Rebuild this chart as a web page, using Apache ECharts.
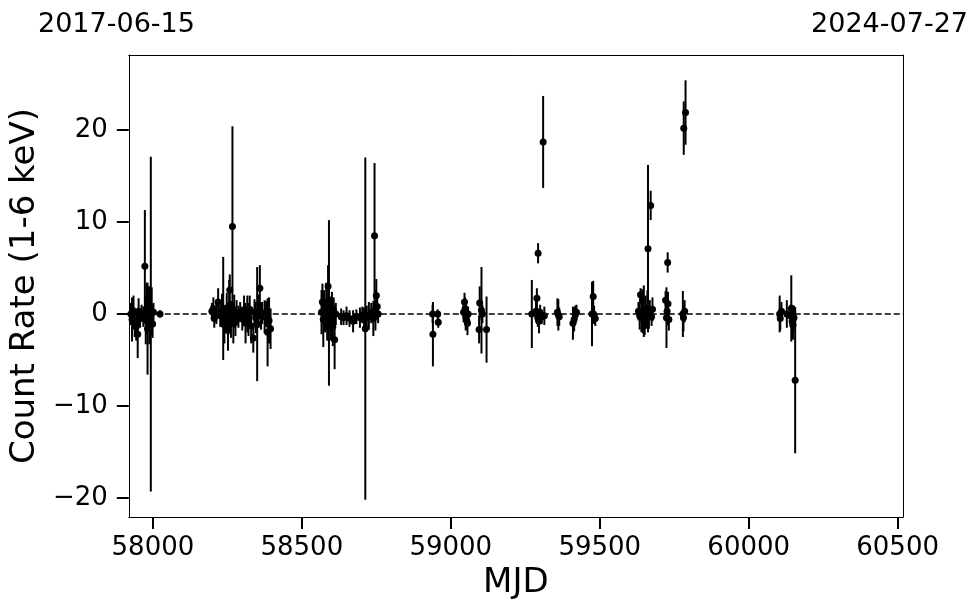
<!DOCTYPE html>
<html>
<head>
<meta charset="utf-8">
<script src="https://cdn.jsdelivr.net/npm/echarts@6/dist/echarts.min.js"></script>
<style>
html,body{margin:0;padding:0;background:#fff;}
#chart{width:980px;height:613px;}
</style>
</head>
<body>
<div id="chart"></div>
<script>
// ---- data (MJD, count rate, 1-sigma error) ----
const mjd = [
  57926,57930,57935,57939,57944,57949,57952,57957,57962,57968,57973,57976,57979,57982,57985,57988,57990,57993,57996,57999,58002,58024,
  58198,58203,58206,58213,58219,58226,58232,58236,58240,58244,58248,58252,58256,58258,58262,58267,58270,58273,58277,58281,58287,58293,58300,58306,58311,58317,58321,58325,58330,58337,58341,58345,58350,58355,58359,58363,58367,58375,58380,58385,58390,58395,
  58566,58569,58572,58575,58578,58582,58585,58588,58591,58594,58598,58601,58604,58607,58610,58614,58632,58640,58650,58660,58672,58683,58695,58703,58709,58713,58718,58725,58733,58740,58744,58747,58750,58753,58756,
  58939,58940,58956,58958,
  59043,59046,59048,59050,59052,59054,59056,59058,
  59095,59097,59103,59106,59120,
  59272,59286,59289,59292,59293,59296,59300,59305,59310,59314,59358,59361,59364,59410,59414,59418,59422,59474,59478,59481,59485,
  59630,59634,59637,59640,59643,59645,59648,59651,59654,59657,59660,59662,59665,59668,59671,59674,59677,59721,59724,59726,59728,59729,59732,59779,59781,59782,59785,59788,
  60104,60106,60110,60128,60140,60143,60146,60149,60152,60156
];
const rate = [
  0.0,-0.6,0.2,-0.9,-1.4,-2.2,0.3,-0.5,0.1,-0.3,5.2,-0.7,0.6,-1.6,1.1,-0.4,0.8,-1.1,0.3,-1.1,0.2,0.0,
  0.3,0.6,-0.5,0.0,1.3,-0.2,0.4,0.6,-1.2,-0.5,0.2,-1.8,0.9,2.6,-0.6,9.5,-1.0,0.3,-0.8,0.1,-0.3,0.2,-0.5,0.4,-1.0,0.0,-0.6,0.5,-1.3,-2.6,0.2,-0.4,-1.1,0.3,2.8,-0.2,0.1,-0.3,0.0,-2.0,-0.7,-1.6,
  0.2,1.3,-0.6,0.4,-0.2,0.8,-0.9,3.0,1.2,0.1,-0.5,0.6,-1.4,0.3,-2.8,0.0,-0.3,-0.4,-0.2,-0.5,-0.8,-0.3,-0.4,-0.1,-0.6,-1.6,-0.3,-0.2,0.1,-0.5,8.5,0.4,2.0,0.8,0.0,
  0.0,-2.2,0.0,-0.9,
  0.2,1.3,0.6,-0.2,-0.5,-0.8,-1.0,0.0,
  -1.7,1.2,0.4,0.0,-1.7,
  0.0,0.3,1.7,-0.4,6.6,-0.8,0.1,-0.3,18.7,-0.2,0.2,-0.1,-0.3,-1.0,-0.6,-0.1,0.2,0.0,1.9,-0.1,-0.5,
  0.3,-0.2,2.1,0.0,1.5,-0.5,0.3,-0.8,0.2,-0.4,0.6,7.1,-0.2,0.4,11.8,-0.3,0.5,1.5,-0.4,0.3,5.6,1.1,-0.6,0.0,-0.4,20.2,0.3,21.9,
  0.0,-0.5,0.3,0.0,-0.2,0.6,-0.8,-1.2,-0.4,-7.2
];
const err = [
  1.2,2.4,1.8,1.6,1.5,2.6,1.4,1.0,0.9,1.1,6.1,2.6,2.8,5.0,1.9,2.9,2.2,18.2,2.6,1.5,1.0,0.4,
  0.9,1.2,1.0,1.1,1.5,1.2,1.8,5.6,2.0,1.5,2.1,2.2,2.8,1.7,2.0,10.9,2.2,1.8,1.6,1.4,1.2,1.1,1.3,1.6,2.2,2.0,1.8,1.5,1.9,1.6,1.4,1.7,6.2,1.8,2.5,1.5,1.2,1.8,1.4,3.7,2.5,2.2,
  2.4,2.0,3.0,2.2,1.8,2.6,2.0,2.3,9.0,1.6,2.4,1.8,2.1,1.5,3.2,1.2,0.9,0.8,1.0,0.9,1.2,0.8,1.1,0.9,1.3,18.6,1.2,1.5,1.1,1.9,7.9,2.2,1.8,1.4,1.0,
  1.0,3.5,0.5,0.6,
  1.1,1.0,1.2,1.6,1.0,0.9,1.3,0.8,
  1.5,1.8,4.7,1.0,3.6,
  3.7,1.2,1.1,1.0,1.1,1.3,0.9,0.8,5.0,1.0,1.5,1.7,1.0,1.8,1.3,1.0,0.8,3.5,1.7,1.0,0.8,
  1.0,1.5,0.7,2.0,1.2,1.6,2.8,1.5,1.8,1.2,2.0,9.1,1.4,1.1,1.6,1.0,1.3,1.0,3.3,1.5,1.1,1.3,1.2,2.5,1.5,2.9,1.2,3.5,
  2.0,1.3,1.0,1.5,1.2,3.6,1.8,1.6,1.3,7.95
];
const xTicks = [58000, 58500, 59000, 59500, 60000, 60500];
const yTicks = [-20, -10, 0, 10, 20];
const dateStart = '2017-06-15';
const dateEnd = '2024-07-27';
const xMin = 57919, xMax = 60518;
const yMin = -22.07, yMax = 28.15;

// ---- build series data ----
const points = mjd.map((m, i) => [m, rate[i]]);
const bars = mjd.map((m, i) => [m, rate[i] - err[i], rate[i] + err[i]]);

const FONT = 'DejaVu Sans';
const minusFmt = v => (v < 0 ? '\u2212' + Math.abs(v) : String(v));
const plainFmt = v => String(v);
const spine = {show: true, onZero: false, lineStyle: {color: '#000', width: 1}};

const chart = echarts.init(document.getElementById('chart'), null, {renderer: 'canvas'});
chart.setOption({
  animation: false,
  backgroundColor: '#fff',
  grid: {left: 127, right: 77, top: 55, bottom: 96},
  graphic: [
    {type: 'text', left: 38, top: 11, style: {text: dateStart, fontFamily: FONT, fontSize: 27, fill: '#000'}},
    {type: 'text', right: 12, top: 11, style: {text: dateEnd, fontFamily: FONT, fontSize: 27, fill: '#000'}}
  ],
  xAxis: [{
    type: 'value', min: xMin, max: xMax, position: 'bottom',
    name: 'MJD', nameLocation: 'middle', nameGap: 47,
    nameTextStyle: {fontFamily: FONT, fontSize: 34, color: '#000'},
    axisLine: spine,
    axisTick: {show: true, length: 12, lineStyle: {color: '#000', width: 2}, customValues: xTicks},
    axisLabel: {fontFamily: FONT, fontSize: 26, color: '#000', margin: 18, customValues: xTicks, formatter: plainFmt},
    splitLine: {show: false}
  }, {
    type: 'value', min: xMin, max: xMax, position: 'top',
    axisLine: spine, axisTick: {show: false}, axisLabel: {show: false}, splitLine: {show: false}
  }],
  yAxis: [{
    type: 'value', min: yMin, max: yMax, position: 'left',
    name: 'Count Rate (1-6 keV)', nameLocation: 'middle', nameGap: 76,
    nameTextStyle: {fontFamily: FONT, fontSize: 34, color: '#000'},
    axisLine: spine,
    axisTick: {show: true, length: 12, lineStyle: {color: '#000', width: 2}, customValues: yTicks},
    axisLabel: {fontFamily: FONT, fontSize: 26, color: '#000', margin: 21, customValues: yTicks, formatter: minusFmt},
    splitLine: {show: false}
  }, {
    type: 'value', min: yMin, max: yMax, position: 'right',
    axisLine: spine, axisTick: {show: false}, axisLabel: {show: false}, splitLine: {show: false}
  }],
  series: [
    {
      type: 'custom',
      data: bars,
      encode: {x: 0, y: [1, 2]},
      silent: true,
      renderItem: function (params, api) {
        const x = api.value(0);
        const p1 = api.coord([x, api.value(2)]);
        const p2 = api.coord([x, api.value(1)]);
        return {type: 'line', shape: {x1: p1[0], y1: p1[1], x2: p2[0], y2: p2[1]}, style: {stroke: '#000', lineWidth: 2}};
      },
      z: 2
    },
    {
      type: 'scatter',
      data: points,
      symbol: 'circle',
      symbolSize: 7,
      itemStyle: {color: '#000', opacity: 1},
      z: 3,
      markLine: {
        silent: true, symbol: 'none', label: {show: false},
        lineStyle: {color: '#000', type: [6, 3], width: 1.5, opacity: 1},
        data: [{yAxis: 0}]
      }
    }
  ]
});
</script>
</body>
</html>
